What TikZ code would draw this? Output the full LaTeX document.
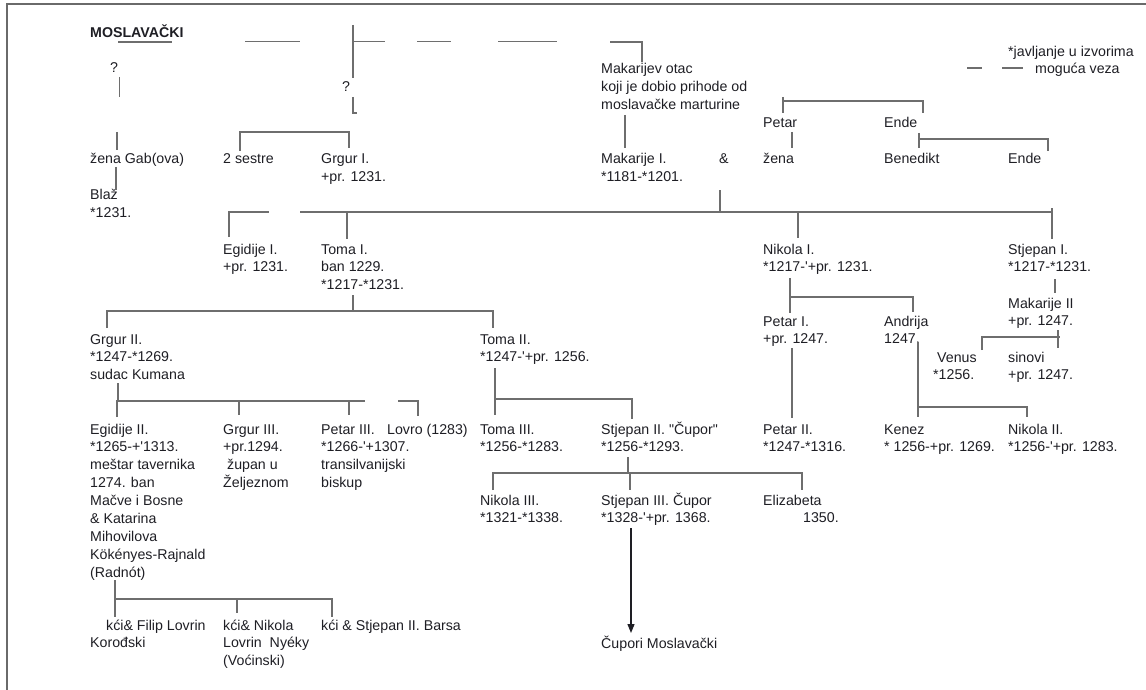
\documentclass[tikz,border=0pt]{standalone}
\usepackage{fontspec}
\usepackage{tikz}
\usetikzlibrary{arrows.meta,positioning,calc}
\newfontfamily\chartfont{Liberation Sans}
\definecolor{Ink}{HTML}{1E1E24}
\definecolor{Line}{HTML}{6E6E6E}
\definecolor{Frame}{HTML}{6A6A6A}
% lines of one entry, baseline on the first line
\newcommand\who[1]{\begin{tabular}[t]{@{}l@{}}#1\end{tabular}}
\tikzset{
  person/.style={anchor=base west,inner sep=0pt,text=Ink,font=\chartfont\fontsize{14.2}{17.9}\selectfont},
  link/.style={draw=Line,line width=1.2pt},
  darklink/.style={draw=Ink,line width=1.2pt},
  descent/.style={darklink,-{Triangle[length=9pt,width=7pt]}},
  frame/.style={draw=Frame,line width=2pt}
}
\begin{document}
\begin{tikzpicture}[x=1pt,y=-1pt]
  \useasboundingbox (0,0) rectangle (1146,690);
  \draw[frame] (7,690) |- (1146,4);
  % top rows
  \node[person,font=\chartfont\bfseries\fontsize{14.2}{17.9}\selectfont] (title) at (90,38) {MOSLAVAČKI};
  \node[person] (qL) at (110,73) {?};
  \node[person] (qR) at (342,92) {?};
  \node[person] (otac) at (601,74) {\who{Makarijev otac\\koji je dobio prihode od\\moslavačke marturine}};
  \node[person] (leg1) at (1008,57) {*javljanje u izvorima};
  \node[person] (leg2) at (1035,74) {moguća veza};
  \node[person] (petar) at (763,128) {Petar};
  \node[person] (ende) at (884,128) {Ende};
  \node[person] (zenaGab) at (90,164) {žena Gab(ova)};
  \node[person] (sestre) at (223,164) {2 sestre};
  \node[person] (grgurI) at (321,164) {\who{Grgur I.\\+pr. 1231.}};
  \node[person] (makI) at (601,164) {\who{Makarije I.\\{}*1181-*1201.}};
  \node[person] (amp) at (719,164) {\&};
  \node[person] (zena) at (763,164) {žena};
  \node[person] (benedikt) at (884,164) {Benedikt};
  \node[person] (ende2) at (1008,164) {Ende};
  \node[person] (blaz) at (90,200) {\who{Blaž\\{}*1231.}};
  % generation of Makarije I.
  \node[person] (egI) at (223,254) {\who{Egidije I.\\+pr. 1231.}};
  \node[person] (tomaI) at (321,254) {\who{Toma I.\\ban 1229.\\{}*1217-*1231.}};
  \node[person] (nikI) at (763,254) {\who{Nikola I.\\{}*1217-'+pr. 1231.}};
  \node[person] (stjI) at (1008,254) {\who{Stjepan I.\\{}*1217-*1231.}};
  \node[person] (makII) at (1008,308) {\who{Makarije II\\+pr. 1247.}};
  \node[person] (petarI) at (763,326) {\who{Petar I.\\+pr. 1247.}};
  \node[person] (andrija) at (884,326) {\who{Andrija\\1247.}};
  \node[person] (grgurII) at (90,344) {\who{Grgur II.\\{}*1247-*1269.\\sudac Kumana}};
  \node[person] (tomaII) at (480,344) {\who{Toma II.\\{}*1247-'+pr. 1256.}};
  \node[person] (venus) at (933,362) {\who{\hspace*{4pt}Venus\\{}*1256.}};
  \node[person] (sinovi) at (1008,362) {\who{sinovi\\+pr. 1247.}};
  % grandchildren
  \node[person] (egII) at (90,434) {\who{Egidije II.\\{}*1265-+'1313.\\meštar tavernika\\1274. ban\\Mačve i Bosne\\\& Katarina\\Mihovilova\\Kökényes-Rajnald\\(Radnót)}};
  \node[person] (grgurIII) at (223,434) {\who{Grgur III.\\+pr.1294.\\\hspace*{4pt}župan u\\Željeznom}};
  \node[person] (petarIII) at (321,434) {\who{Petar III.\\{}*1266-'+1307.\\transilvanijski\\biskup}};
  \node[person] (lovro) at (387,434) {Lovro (1283)};
  \node[person] (tomaIII) at (480,434) {\who{Toma III.\\{}*1256-*1283.}};
  \node[person] (stjII) at (601,434) {\who{Stjepan II. "Čupor"\\{}*1256-*1293.}};
  \node[person] (petarII) at (763,434) {\who{Petar II.\\{}*1247-*1316.}};
  \node[person] (kenez) at (884,434) {\who{Kenez\\{}* 1256-+pr. 1269.}};
  \node[person] (nikII) at (1008,434) {\who{Nikola II.\\{}*1256-'+pr. 1283.}};
  \node[person] (nikIII) at (480,505) {\who{Nikola III.\\{}*1321-*1338.}};
  \node[person] (stjIII) at (601,505) {\who{Stjepan III. Čupor\\{}*1328-'+pr. 1368.}};
  \node[person] (eliz) at (763,505) {\who{Elizabeta\\\hspace*{40pt}1350.}};
  \node[person] (kci1) at (90,630) {\who{\hspace*{16pt}kći\& Filip Lovrin\\Korođski}};
  \node[person] (kci2) at (223,630) {\who{kći\& Nikola\\Lovrin\ \ Nyéky\\(Voćinski)}};
  \node[person] (kci3) at (321,630) {kći \& Stjepan II. Barsa};
  \node[person] (cupori) at (601,648) {Čupori Moslavački};
  % possible links (broken line)
  \draw[link] ([shift={(28,4)}]title.base west) -- +(54,0);
  \foreach \a/\b in {245/300,353/385,417/451,498/557}
    \draw[link] (\a,41.5) -- (\b,41.5);
  \draw[link] (610,42) -| ([shift={(41,-12)}]otac.base west);
  \draw[link] (353,25) -- ([shift={(11,-14)}]qR.base west);
  \draw[link] ([shift={(11,5)}]qR.base west) -- +(0,16) -- +(4,16);
  \draw[link] ([shift={(9.5,4)}]qL.base west) -- +(0,20);
  \draw[link] ([shift={(27,-32)}]zenaGab.base west) -- ([shift={(27,-14)}]zenaGab.base west);
  \draw[link] ([shift={(26,3)}]zenaGab.base west) -- ([shift={(26,-10)}]blaz.base west);
  \draw[link] ([shift={(17,-13)}]sestre.base west) |- ([shift={(28,-32)}]grgurI.base west) -- ([shift={(28,-16)}]grgurI.base west);
  \draw[link] ([shift={(-68,-6)}]leg2.base west) -- +(15,0) +(35,0) -- +(56,0);
  % Makarije I. and his kin
  \draw[link] ([shift={(24,41)}]otac.base west) -- ([shift={(24,-16)}]makI.base west);
  \draw[link] ([shift={(20,-31)}]petar.base west) -- ([shift={(20,-15)}]petar.base west);
  \draw[link] ([shift={(20,-27)}]petar.base west) -| ([shift={(39,-15)}]ende.base west);
  \draw[link] ([shift={(29,4)}]petar.base west) -- ([shift={(29,-16)}]zena.base west);
  \draw[link] ([shift={(35,5)}]ende.base west) -- ([shift={(35,-16)}]benedikt.base west);
  \draw[link] ([shift={(35,11)}]ende.base west) -| ([shift={(40,-13)}]ende2.base west);
  \coordinate (busMak) at (720,212);
  \draw[link] ([shift={(1,26)}]amp.base west) -- (busMak);
  \draw[link] ([shift={(6,-17)}]egI.base west) |- (269,212);
  \draw[link] (300,212) -- ([shift={(44,-42)}]stjI.base west);
  \draw[link] ([shift={(44,-46)}]stjI.base west) -- ([shift={(44,-15)}]stjI.base west);
  \draw[link] ([shift={(26,-42)}]tomaI.base west) -- ([shift={(26,-15)}]tomaI.base west);
  \draw[link] ([shift={(35,-42)}]nikI.base west) -- ([shift={(35,-16)}]nikI.base west);
  % Toma I.
  \draw[link] ([shift={(32,41)}]tomaI.base west) -- ([shift={(32,57)}]tomaI.base west);
  \draw[link] ([shift={(17,-16)}]grgurII.base west) |- ([shift={(13,-33)}]tomaII.base west) -- ([shift={(13,-16)}]tomaII.base west);
  % Nikola I. and Stjepan I.
  \draw[link] ([shift={(27,24)}]nikI.base west) -- ([shift={(27,-13)}]petarI.base west);
  \draw[link] ([shift={(27,43)}]nikI.base west) -| ([shift={(29,-14)}]andrija.base west);
  \draw[link] ([shift={(47,25)}]stjI.base west) -- ([shift={(47,-15)}]makII.base west);
  \draw[link] ([shift={(49,-12)}]venus.base west) |- ([shift={(52,-25)}]sinovi.base west);
  \draw[link] ([shift={(50,22)}]makII.base west) -- ([shift={(50,-14)}]sinovi.base west);
  \draw[link] ([shift={(29,22)}]petarI.base west) -- ([shift={(29,-16)}]petarII.base west);
  \draw[link] ([shift={(34,16)}]andrija.base west) -- ([shift={(34,-17)}]kenez.base west);
  \draw[link] ([shift={(34,-27)}]kenez.base west) -| ([shift={(19,-17)}]nikII.base west);
  % Grgur II.
  \coordinate (busGII) at (365,401);
  \draw[link] ([shift={(28,39)}]grgurII.base west) -- ([shift={(28,57)}]grgurII.base west);
  \draw[link] ([shift={(27,-17)}]egII.base west) |- (busGII);
  \draw[link] ([shift={(16,-33)}]grgurIII.base west) -- ([shift={(16,-19)}]grgurIII.base west);
  \draw[link] ([shift={(28,-33)}]petarIII.base west) -- ([shift={(28,-19)}]petarIII.base west);
  \draw[link] (398,401) -| ([shift={(31,-18)}]lovro.base west);
  % Toma II. and Stjepan II.
  \draw[link] ([shift={(15,24)}]tomaII.base west) -- ([shift={(15,-19)}]tomaIII.base west);
  \draw[link] ([shift={(15,55)}]tomaII.base west) -| ([shift={(31,-15)}]stjII.base west);
  \draw[link] ([shift={(27,23)}]stjII.base west) -- ([shift={(27,39)}]stjII.base west);
  \draw[link] ([shift={(13,-15)}]nikIII.base west) |- ([shift={(39,-32)}]eliz.base west) -- ([shift={(39,-15)}]eliz.base west);
  \draw[link] ([shift={(29,-32)}]stjIII.base west) -- ([shift={(29,-15)}]stjIII.base west);
  \draw[descent] ([shift={(30,23)}]stjIII.base west) -- ([shift={(30,-15)}]cupori.base west);
  % Egidije II.
  \draw[link] ([shift={(25,146)}]egII.base west) -- ([shift={(25,-13)}]kci1.base west);
  \draw[link] ([shift={(25,165)}]egII.base west) -| ([shift={(11,-13)}]kci3.base west);
  \draw[link] ([shift={(14,-31)}]kci2.base west) -- ([shift={(14,-17)}]kci2.base west);
\end{tikzpicture}
\end{document}
